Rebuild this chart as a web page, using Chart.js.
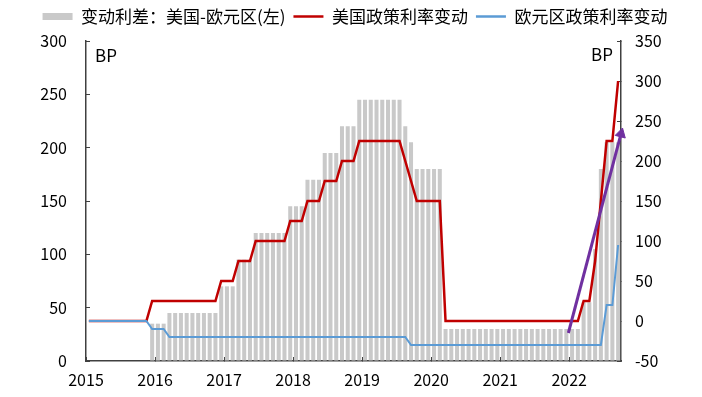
<!DOCTYPE html>
<html>
<head>
<meta charset="utf-8">
<script src="https://cdn.jsdelivr.net/npm/chart.js@4.4.0/dist/chart.umd.min.js"></script>
<style>
  body { margin: 0; background: #fff; }
</style>
</head>
<body>
<canvas id="myChart" width="702" height="397"></canvas>
<script>
// monthly values, Jan 2015 .. Sep 2022 (93 months)
var firstYear = 2015;

// spread (US change minus euro area change), bp, left axis
var spread = [
  0, 0, 0, 0, 0, 0, 0, 0, 0, 0, 0, 35,                 // 2015
  35, 35, 45, 45, 45, 45, 45, 45, 45, 45, 45, 70,      // 2016
  70, 70, 95, 95, 95, 120, 120, 120, 120, 120, 120, 145, // 2017
  145, 145, 170, 170, 170, 195, 195, 195, 220, 220, 220, 245, // 2018
  245, 245, 245, 245, 245, 245, 245, 220, 205, 180, 180, 180, // 2019
  180, 180, 30, 30, 30, 30, 30, 30, 30, 30, 30, 30,    // 2020
  30, 30, 30, 30, 30, 30, 30, 30, 30, 30, 30, 30,      // 2021
  30, 30, 55, 55, 105, 180, 205, 205, 205              // 2022
];

// US policy rate change, bp, right axis
var usChange = [
  0, 0, 0, 0, 0, 0, 0, 0, 0, 0, 0, 25,
  25, 25, 25, 25, 25, 25, 25, 25, 25, 25, 25, 50,
  50, 50, 75, 75, 75, 100, 100, 100, 100, 100, 100, 125,
  125, 125, 150, 150, 150, 175, 175, 175, 200, 200, 200, 225,
  225, 225, 225, 225, 225, 225, 225, 200, 175, 150, 150, 150,
  150, 150, 0, 0, 0, 0, 0, 0, 0, 0, 0, 0,
  0, 0, 0, 0, 0, 0, 0, 0, 0, 0, 0, 0,
  0, 0, 25, 25, 75, 150, 225, 225, 300
];

// euro area policy rate change, bp, right axis
var euChange = [
  0, 0, 0, 0, 0, 0, 0, 0, 0, 0, 0, -10,
  -10, -10, -20, -20, -20, -20, -20, -20, -20, -20, -20, -20,
  -20, -20, -20, -20, -20, -20, -20, -20, -20, -20, -20, -20,
  -20, -20, -20, -20, -20, -20, -20, -20, -20, -20, -20, -20,
  -20, -20, -20, -20, -20, -20, -20, -20, -30, -30, -30, -30,
  -30, -30, -30, -30, -30, -30, -30, -30, -30, -30, -30, -30,
  -30, -30, -30, -30, -30, -30, -30, -30, -30, -30, -30, -30,
  -30, -30, -30, -30, -30, -30, 20, 20, 95
];

// purple trend arrow (month index, right axis bp)
var arrowFrom = {x: 83.85, y: -15};
var arrowTo = {x: 93, y: 234};

var seriesNames = ["变动利差：美国-欧元区(左)", "美国政策利率变动", "欧元区政策利率变动"];
var unitLabel = "BP";

var fontFamily = '"Noto Sans CJK SC", "Noto Sans", sans-serif';
Chart.defaults.font.family = fontFamily;
Chart.defaults.font.size = 16;
Chart.defaults.color = "#000";

function monthPoints(values) {
    return values.map(function(v, i) { return {x: i + 0.5, y: v}; });
}

var colors = ["#C9C9C9", "#C00000", "#5B9BD5"];

var bpLabels = {
    id: "bpLabels",
    afterDraw: function(chart) {
        var ctx = chart.ctx;
        var a = chart.chartArea;
        ctx.save();
        ctx.font = "17px " + fontFamily;
        ctx.fillStyle = "#000";
        ctx.textBaseline = "middle";
        ctx.textAlign = "left";
        ctx.fillText(unitLabel, a.left + 9, a.top + 15);
        ctx.textAlign = "right";
        ctx.fillText(unitLabel, a.right - 8, a.top + 14);
        ctx.restore();
    }
};

var axisColor = "#404040";

var chart = new Chart(document.getElementById("myChart"), {
    data: {
        datasets: [
            {
                type: "bar",
                label: seriesNames[0],
                yAxisID: "y",
                data: monthPoints(spread),
                backgroundColor: colors[0],
                barPercentage: 0.7,
                categoryPercentage: 1,
                order: 2
            },
            {
                type: "line",
                label: seriesNames[1],
                yAxisID: "y1",
                data: monthPoints(usChange),
                borderColor: colors[1],
                borderWidth: 2.5,
                pointRadius: 0,
                tension: 0,
                fill: false,
                order: 1
            },
            {
                type: "line",
                label: seriesNames[2],
                yAxisID: "y1",
                data: monthPoints(euChange),
                borderColor: colors[2],
                borderWidth: 2,
                pointRadius: 0,
                tension: 0,
                fill: false,
                order: 0.5
            },
            {
                type: "line",
                label: "arrow",
                yAxisID: "y1",
                data: [arrowFrom, arrowTo],
                borderColor: "#7030A0",
                borderWidth: 3,
                pointRadius: [0, 6],
                pointStyle: "triangle",
                pointRotation: 14.7,
                pointBackgroundColor: "#7030A0",
                pointBorderColor: "#7030A0",
                pointBorderWidth: 1,
                tension: 0,
                fill: false,
                clip: false,
                order: 0
            }
        ]
    },
    options: {
        responsive: false,
        animation: false,
        layout: { padding: { left: 8, right: 0, top: 0, bottom: 0 } },
        plugins: {
            tooltip: { enabled: false },
            title: {
                // spacer between legend and plot
                display: true,
                text: "",
                position: "top",
                weight: 500,
                padding: 0,
                font: { size: 6, lineHeight: 1 }
            },
            legend: {
                position: "top",
                labels: {
                    usePointStyle: true,
                    pointStyleWidth: 30,
                    boxHeight: 7,
                    padding: 8,
                    font: { size: 17 },
                    color: "#000",
                    filter: function(item) { return item.datasetIndex < 3; },
                    sort: function(a, b) { return a.datasetIndex - b.datasetIndex; },
                    generateLabels: function(chart) {
                        var items = Chart.defaults.plugins.legend.labels.generateLabels(chart);
                        items.forEach(function(item) {
                            var i = item.datasetIndex;
                            if (i === 0) {
                                item.pointStyle = "rect";
                                item.fillStyle = colors[0];
                                item.strokeStyle = colors[0];
                                item.lineWidth = 0;
                            } else if (i < 3) {
                                item.pointStyle = "line";
                                item.fillStyle = colors[i];
                                item.strokeStyle = colors[i];
                                item.lineWidth = 2.5;
                            }
                            item.rotation = 0;
                        });
                        return items;
                    }
                }
            }
        },
        scales: {
            x: {
                type: "linear",
                position: "bottom",
                offset: false,
                min: 0,
                max: 93,
                afterBuildTicks: function(axis) {
                    axis.ticks = axis.ticks.filter(function(t) { return t.value % 12 === 0; });
                },
                afterFit: function(axis) { axis.height = 36; },
                ticks: {
                    stepSize: 12,
                    autoSkip: false,
                    maxRotation: 0,
                    padding: 13,
                    callback: function(v) { return String(firstYear + v / 12); }
                },
                grid: { offset: false, drawOnChartArea: false, tickLength: -4, color: axisColor, lineWidth: 1 },
                border: { color: axisColor, width: 1.5 }
            },
            y: {
                position: "left",
                min: 0,
                max: 300,
                afterFit: function(axis) { axis.width = 78; },
                ticks: { stepSize: 50, padding: 23 },
                grid: { drawOnChartArea: false, tickLength: -4, color: axisColor, lineWidth: 1 },
                border: { color: axisColor, width: 1.5 }
            },
            y1: {
                position: "right",
                min: -50,
                max: 350,
                afterFit: function(axis) { axis.width = 81; },
                ticks: { stepSize: 50, padding: 18 },
                grid: { drawOnChartArea: false, tickLength: -4, color: axisColor, lineWidth: 1 },
                border: { color: axisColor, width: 1.5 }
            }
        }
    },
    plugins: [bpLabels]
});
</script>
</body>
</html>
